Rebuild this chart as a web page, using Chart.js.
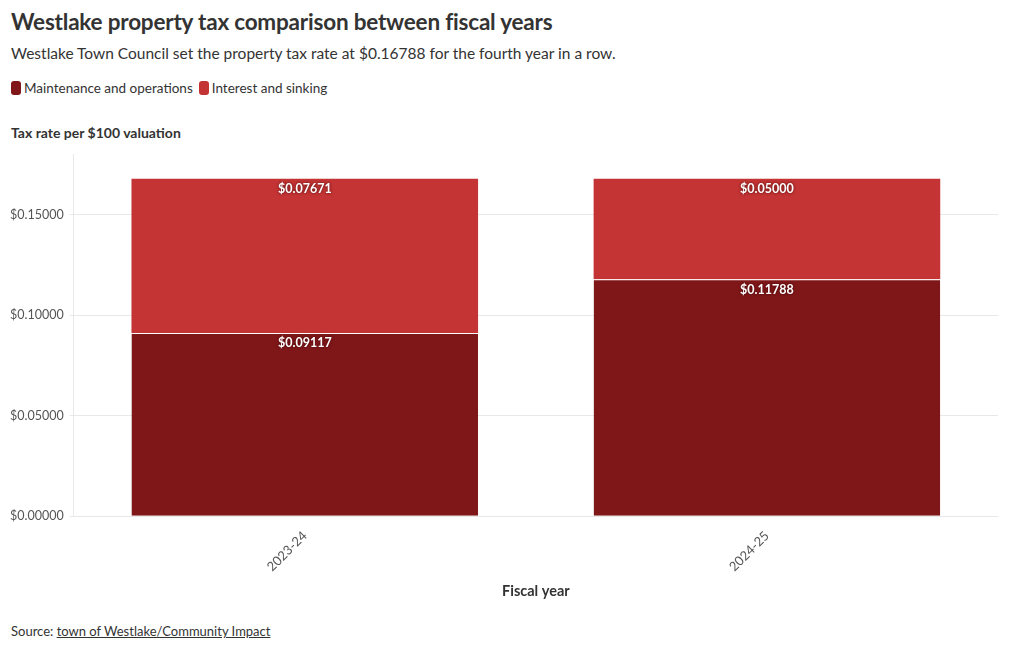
<!DOCTYPE html>
<html>
<head>
<meta charset="utf-8">
<script src="https://cdn.jsdelivr.net/npm/chart.js@4.4.1/dist/chart.umd.min.js"></script>
<style>
    body { margin: 0; background: #fff; font-family: Lato, "Noto Sans", sans-serif; color: #333; }
    #wrap { position: relative; width: 1020px; height: 650px; }
    h1 { position: absolute; left: 11px; top: 8px; margin: 0; font-size: 22.5px; font-weight: 700; color: #333; letter-spacing: -0.2px; }
    .sub { position: absolute; left: 11px; top: 44px; font-size: 15.5px; color: #333; }
    .legend { position: absolute; left: 11px; top: 80px; font-size: 13.5px; color: #333; display: flex; }
    .legend span.item { display: flex; align-items: center; margin-right: 6px; }
    .legend i { display: inline-block; width: 10px; height: 14px; border-radius: 3px; margin-right: 3px; }
    .ytitle { position: absolute; left: 11px; top: 124px; font-size: 14px; font-weight: 700; color: #333; }
    #chartBox { position: absolute; left: 0; top: 141px; width: 1020px; height: 459px; }
    .source { position: absolute; left: 11px; top: 623px; font-size: 13px; color: #333; }
    .source a { color: #333; }
</style>
</head>
<body>
<div id="wrap">
    <h1>Westlake property tax comparison between fiscal years</h1>
    <div class="sub">Westlake Town Council set the property tax rate at $0.16788 for the fourth year in a row.</div>
    <div class="legend">
        <span class="item"><i style="background:#7f1719"></i>Maintenance and operations</span>
        <span class="item"><i style="background:#c43434"></i>Interest and sinking</span>
    </div>
    <div class="ytitle">Tax rate per $100 valuation</div>
    <div id="chartBox"><canvas id="taxChart"></canvas></div>
    <div class="source">Source: <a href="#">town of Westlake/Community Impact</a></div>
</div>
<script>
// Chart data
const fiscalYears = ['2023-24', '2024-25'];
const maintenanceOps = [0.09117, 0.11788];
const interestSinking = [0.07671, 0.05000];
const yTicks = [0, 0.05, 0.10, 0.15];

const DARK = '#7f1719';
const LIGHT = '#c43434';
const FONT = 'Lato, "Noto Sans", sans-serif';

// Draws the value inside the top of each bar segment
const segmentLabels = {
    id: 'segmentLabels',
    afterDatasetsDraw(chart) {
        const ctx = chart.ctx;
        ctx.save();
        ctx.font = 'bold 12.5px ' + FONT;
        ctx.textAlign = 'center';
        ctx.textBaseline = 'top';
        chart.data.datasets.forEach((ds, i) => {
            const meta = chart.getDatasetMeta(i);
            meta.data.forEach((bar, j) => {
                const text = '$' + ds.data[j].toFixed(5);
                ctx.shadowColor = 'rgba(60,0,0,0.9)';
                ctx.shadowBlur = 3;
                ctx.fillStyle = '#fff';
                ctx.fillText(text, bar.x, bar.y + 4);
                ctx.shadowBlur = 0;
            });
        });
        ctx.restore();
    }
};

new Chart(document.getElementById('taxChart'), {
    type: 'bar',
    data: {
        labels: fiscalYears,
        datasets: [{
            label: 'Maintenance and operations',
            data: maintenanceOps,
            backgroundColor: DARK,
            borderColor: '#ffffff',
            borderWidth: { top: 1, left: 0, right: 0, bottom: 0 },
            borderSkipped: false,
            barPercentage: 0.75,
            categoryPercentage: 1
        }, {
            label: 'Interest and sinking',
            data: interestSinking,
            backgroundColor: LIGHT,
            borderColor: '#ffffff',
            borderWidth: 0,
            barPercentage: 0.75,
            categoryPercentage: 1
        }]
    },
    options: {
        responsive: true,
        maintainAspectRatio: false,
        animation: false,
        layout: { padding: { top: 5, right: 22, left: 4 } },
        plugins: {
            legend: { display: false },
            tooltip: { enabled: false }
        },
        scales: {
            x: {
                stacked: true,
                grid: { display: false },
                border: { display: false },
                ticks: {
                    maxRotation: 45,
                    minRotation: 45,
                    color: '#555',
                    font: { family: FONT, size: 13 },
                    padding: 4
                },
                title: {
                    display: true,
                    text: 'Fiscal year',
                    color: '#333',
                    font: { family: FONT, size: 14.5, weight: 'bold' },
                    padding: { top: 4, bottom: 0 }
                }
            },
            y: {
                stacked: true,
                min: 0,
                max: 0.18,
                afterBuildTicks: scale => {
                    scale.ticks = yTicks.map(v => ({ value: v }));
                },
                grid: { color: '#e8e8e8', tickLength: 4 },
                border: { display: true, color: '#e8e8e8' },
                ticks: {
                    color: '#555',
                    font: { family: FONT, size: 12.5 },
                    padding: 6,
                    callback: v => '$' + Number(v).toFixed(5)
                }
            }
        }
    },
    plugins: [segmentLabels]
});
</script>
</body>
</html>
